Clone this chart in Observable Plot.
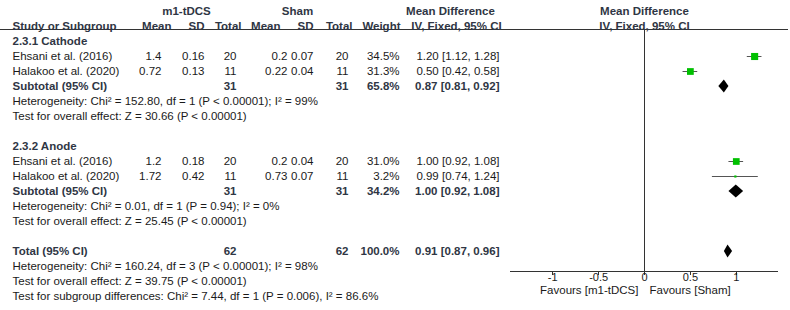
<!DOCTYPE html>
<html>
<head>
<meta charset="utf-8">
<script src="https://cdn.jsdelivr.net/npm/d3@7"></script>
<script src="https://cdn.jsdelivr.net/npm/@observablehq/plot@0.6"></script>
<style>
  html, body { margin: 0; padding: 0; background: #fff; }
  #chart svg { display: block; }
</style>
</head>
<body>
<div id="chart"></div>
<script>
// ---------------- DATA ----------------
const rowKeys = ["grp", "hdr", "cat", "cat1", "cat2", "catSub", "catHet", "catZ", "gap1",
                 "ano", "ano1", "ano2", "anoSub", "anoHet", "anoZ", "gap2",
                 "tot", "totHet", "totZ", "totSubDiff"];

const studyNames = ["Ehsani et al. (2016)", "Halakoo et al. (2020)", "Ehsani et al. (2016)", "Halakoo et al. (2020)"];
const studyRowKeys = ["cat1", "cat2", "ano1", "ano2"];
const tMean = ["1.4", "0.72", "1.2", "1.72"];
const tSD = ["0.16", "0.13", "0.18", "0.42"];
const tN = [20, 11, 20, 11];
const cMean = ["0.2", "0.22", "0.2", "0.73"];
const cSD = ["0.07", "0.04", "0.04", "0.07"];
const cN = [20, 11, 20, 11];
const weights = [34.5, 31.3, 31.0, 3.2];
const md = [1.20, 0.50, 1.00, 0.99];
const mdLo = [1.12, 0.42, 0.92, 0.74];
const mdHi = [1.28, 0.58, 1.08, 1.24];

const subgroupTitles = ["2.3.1 Cathode", "2.3.2 Anode"];
const subgroupRowKeys = ["cat", "ano"];

const pooledLabels = ["Subtotal (95% CI)", "Subtotal (95% CI)", "Total (95% CI)"];
const pooledRowKeys = ["catSub", "anoSub", "tot"];
const pooledTN = [31, 31, 62];
const pooledCN = [31, 31, 62];
const pooledWeight = [65.8, 34.2, 100.0];
const pooledMd = [0.87, 1.00, 0.91];
const pooledLo = [0.81, 0.92, 0.87];
const pooledHi = [0.92, 1.08, 0.96];

const hetRowKeys = ["catHet", "anoHet", "totHet"];
const hetChi = [152.80, 0.01, 160.24];
const hetDf = [1, 1, 3];
const hetP = ["< 0.00001", "= 0.94", "< 0.00001"];
const hetI2 = [99, 0, 98];
const zRowKeys = ["catZ", "anoZ", "totZ"];
const zValues = [30.66, 25.45, 39.75];
const zP = ["< 0.00001", "< 0.00001", "< 0.00001"];
const subDiffChi = 7.44, subDiffDf = 1, subDiffP = "= 0.006", subDiffI2 = 86.6;

const axisTicks = [-1, -0.5, 0, 0.5, 1];
const favours = ["Favours [m1-tDCS]", "Favours [Sham]"];

// ---------------- TABLES ----------------
const studies = studyNames.map((s, i) => ({
  row: studyRowKeys[i], study: s, tMean: tMean[i], tSD: tSD[i], tN: tN[i],
  cMean: cMean[i], cSD: cSD[i], cN: cN[i], weight: weights[i],
  md: md[i], lo: mdLo[i], hi: mdHi[i]
}));
const pooled = pooledLabels.map((l, i) => ({
  row: pooledRowKeys[i], label: l, tN: pooledTN[i], cN: pooledCN[i], weight: pooledWeight[i],
  md: pooledMd[i], lo: pooledLo[i], hi: pooledHi[i]
}));
const subgroups = subgroupTitles.map((t, i) => ({row: subgroupRowKeys[i], text: t}));
const notes = [
  ...hetRowKeys.map((r, i) => ({row: r, text: `Heterogeneity: Chi² = ${hetChi[i].toFixed(2)}, df = ${hetDf[i]} (P ${hetP[i]}); I² = ${hetI2[i]}%`})),
  ...zRowKeys.map((r, i) => ({row: r, text: `Test for overall effect: Z = ${zValues[i].toFixed(2)} (P ${zP[i]})`})),
  {row: "totSubDiff", text: `Test for subgroup differences: Chi² = ${subDiffChi.toFixed(2)}, df = ${subDiffDf} (P ${subDiffP}), I² = ${subDiffI2}%`}
];
const ciText = d => `${d.md.toFixed(2)} [${d.lo.toFixed(2)}, ${d.hi.toFixed(2)}]`;

// ---------------- LAYOUT ----------------
const W = 790, H = 310;
const ML = 510, MR = 12, MT = 29, MB = 39;
const FS = 11.5;
const TXT = "#1a1a1a";
const BOLD = "#2f3644";
const FONT = "'Liberation Sans', Arial, Helvetica, sans-serif";

function col(data, px, text, opts = {}) {
  return Plot.text(data, {
    y: "row", text, frameAnchor: "left", dx: px - ML, textAnchor: "end",
    fontSize: FS, fill: TXT, ...opts
  });
}
function boldCol(data, px, text, opts = {}) {
  return col(data, px, text, {fontWeight: "bold", fill: BOLD, ...opts});
}
const hdr = (label, row = "hdr") => [{row, text: label}];

// header rule, axis line and tick marks
function lines(index, scales, values, dims) {
  const g = d3.create("svg:g").attr("stroke", "#333").attr("stroke-width", 1).attr("shape-rendering", "crispEdges");
  const yb = dims.height - dims.marginBottom;
  g.append("line").attr("x1", dims.marginLeft).attr("x2", dims.width - dims.marginRight).attr("y1", yb).attr("y2", yb);
  const yt = dims.marginTop;
  g.append("line").attr("x1", 0).attr("x2", dims.width - 2).attr("y1", yt).attr("y2", yt);
  for (const t of axisTicks) {
    const x = Math.round(scales.x(t));
    g.append("line").attr("x1", x).attr("x2", x).attr("y1", yb).attr("y2", yb + 4);
  }
  return g.node();
}
function diamonds(index, scales) {
  const g = d3.create("svg:g").attr("fill", "#000");
  for (const d of pooled) {
    const y = scales.y(d.row);
    const h = 6.5;
    g.append("path").attr("d",
      `M${scales.x(d.lo)},${y}L${scales.x(d.md)},${y - h}L${scales.x(d.hi)},${y}L${scales.x(d.md)},${y + h}Z`);
  }
  return g.node();
}

const chart = Plot.plot({
  width: W, height: H,
  marginLeft: ML, marginRight: MR, marginTop: MT, marginBottom: MB,
  style: {fontFamily: FONT, fontSize: FS + "px", color: TXT, background: "#fff"},
  x: {domain: [-1.46, 1.46], axis: null},
  y: {type: "point", domain: rowKeys, range: [6, 301.5], padding: 0, inset: 0, axis: null},
  r: {type: "sqrt", domain: [0, 34.5], range: [0, 4]},
  marks: [
    lines,
    Plot.ruleX([0], {stroke: "#333"}),
    // axis tick labels
    Plot.text(axisTicks, {x: d => d, text: d => String(d), frameAnchor: "bottom", dy: 9, fontSize: 11, fill: TXT}),
    // group headers
    boldCol(hdr("m1-tDCS", "grp"), 186, "text", {textAnchor: "middle"}),
    boldCol(hdr("Sham", "grp"), 297, "text", {textAnchor: "middle"}),
    boldCol(hdr("Mean Difference", "grp"), 450, "text", {textAnchor: "middle"}),
    boldCol(hdr("Mean Difference", "grp"), 644, "text", {textAnchor: "middle"}),
    // column headers
    boldCol(hdr("Study or Subgroup"), 12, "text", {textAnchor: "start"}),
    boldCol(hdr("Mean"), 171, "text"),
    boldCol(hdr("SD"), 204, "text"),
    boldCol(hdr("Total"), 241, "text"),
    boldCol(hdr("Mean"), 280, "text"),
    boldCol(hdr("SD"), 313, "text"),
    boldCol(hdr("Total"), 352, "text"),
    boldCol(hdr("Weight"), 400, "text"),
    boldCol(hdr("IV, Fixed, 95% CI"), 456, "text", {textAnchor: "middle"}),
    boldCol(hdr("IV, Fixed, 95% CI"), 644, "text", {textAnchor: "middle"}),
    // subgroup titles
    boldCol(subgroups, 12, "text", {textAnchor: "start"}),
    // study rows
    col(studies, 12, "study", {textAnchor: "start"}),
    col(studies, 161, "tMean"),
    col(studies, 204, "tSD"),
    col(studies, 236, d => String(d.tN)),
    col(studies, 287, "cMean"),
    col(studies, 313, "cSD"),
    col(studies, 348, d => String(d.cN)),
    col(studies, 399, d => d.weight.toFixed(1) + "%"),
    col(studies, 499, ciText),
    // pooled rows
    boldCol(pooled, 12, "label", {textAnchor: "start"}),
    boldCol(pooled, 236, d => String(d.tN)),
    boldCol(pooled, 348, d => String(d.cN)),
    boldCol(pooled, 399, d => d.weight.toFixed(1) + "%"),
    boldCol(pooled, 499, ciText),
    // notes
    col(notes, 12, "text", {textAnchor: "start"}),
    // forest
    Plot.ruleY(studies, {y: "row", x1: "lo", x2: "hi", stroke: "#555", strokeWidth: 1}),
    Plot.dot(studies, {x: "md", y: "row", r: "weight", symbol: "square", fill: "#00c000", stroke: "none"}),
    diamonds,
    // favours labels
    Plot.text([favours[0]], {x: () => 0, text: d => d, frameAnchor: "bottom", dy: 22, dx: -6, textAnchor: "end", fontSize: FS, fill: TXT}),
    Plot.text([favours[1]], {x: () => 0, text: d => d, frameAnchor: "bottom", dy: 22, dx: 5, textAnchor: "start", fontSize: FS, fill: TXT})
  ]
});
document.getElementById("chart").appendChild(chart);
</script>
</body>
</html>
